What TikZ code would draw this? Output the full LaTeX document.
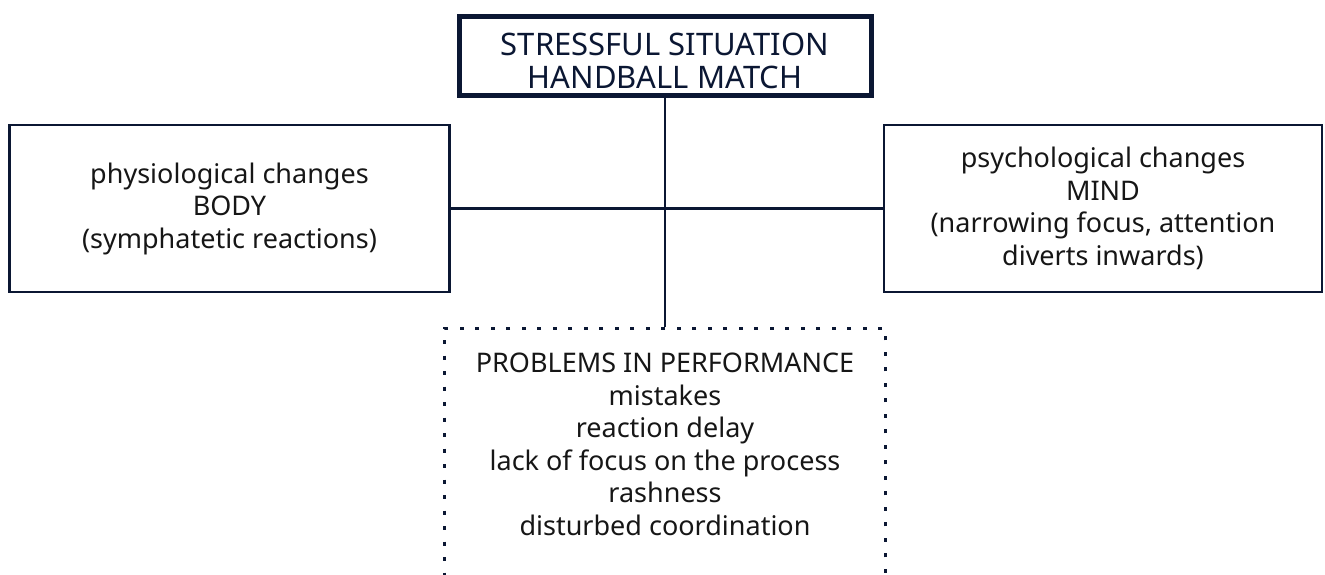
\documentclass[tikz,border=0pt]{standalone}
\usepackage{fontspec}
\setmainfont{Noto Sans}
\usepackage{tikz}

\definecolor{navy}{HTML}{0B1733}
\definecolor{ink}{HTML}{161616}

\tikzset{
	topbox/.style={draw=navy,line width=5pt,text=navy,align=center,minimum width=412pt,minimum height=79pt,inner sep=0pt,font=\fontsize{31}{33}\selectfont},
	sidebox/.style={draw=navy,line width=2.5pt,text=ink,align=center,minimum height=167pt,inner sep=0pt},
	probbox/.style={draw=navy,line width=2.5pt,dash pattern=on 4pt off 11.5pt,text=ink,align=center,anchor=north,minimum width=441pt,text depth=300pt,inner ysep=25pt},
	link/.style={draw=navy,line width=2.5pt}
}

\begin{document}
\begin{tikzpicture}[x=1pt,y=-1pt,font=\fontsize{27}{32.5}\selectfont]
	\useasboundingbox (0,0) rectangle (1325,575);
	\clip (0,0) rectangle (1325,575);

	\node[topbox] (stress) at (665,56) {\rule{0pt}{32pt}STRESSFUL SITUATION\\HANDBALL MATCH};
	\node[sidebox,minimum width=440pt] (body) at (229.5,208.5) {physiological changes\\BODY\\(symphatetic reactions)};
	\node[sidebox,minimum width=438pt] (mind) at (1103,208.5) {psychological changes\\MIND\\(narrowing focus, attention\\diverts inwards)};
	\node[probbox] (prob) at (665,327) {PROBLEMS IN PERFORMANCE\\mistakes\\reaction delay\\lack of focus on the process\\rashness\\disturbed coordination};

	\draw[link] (stress.south) -- (prob.north);
	\draw[link] (body.east) -- (mind.west);
\end{tikzpicture}
\end{document}
